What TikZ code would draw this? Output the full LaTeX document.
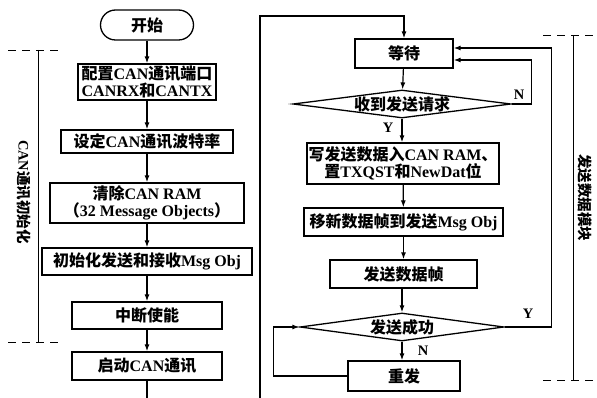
\documentclass[tikz,border=0pt]{standalone}
\usepackage{fontspec}
\setmainfont{Liberation Serif}
\newfontfamily\cjk{Noto Sans CJK SC}
\usetikzlibrary{shapes.geometric,arrows.meta}
\newcommand\zh[1]{{\cjk #1}}
\begin{document}
\begin{tikzpicture}[x=1pt,y=-1pt,
  txt/.style={font=\bfseries\fontsize{16}{17.5}\selectfont},
  small/.style={font=\bfseries\fontsize{14.5}{17}\selectfont},
  box/.style={txt,draw,line width=1.3pt,inner sep=0pt,align=center},
  term/.style={box,rounded corners=15pt},
  dia/.style={txt,draw,line width=1.3pt,shape=diamond,inner sep=0pt},
  lbl/.style={small,inner sep=0pt},
  flow/.style={line width=1.2pt},
  arr/.style={flow,-{Latex[length=7pt,width=5pt]}},
  brk/.style={line width=0.9pt},
  dsh/.style={line width=0.9pt,dash pattern=on 8pt off 6pt}]
\useasboundingbox (0,0) rectangle (597,398);
% left column
\node[term,minimum width=93pt,minimum height=30pt] (start) at (147,25) {\zh{开始}};
\node[box,minimum width=138pt,minimum height=36pt] (b1) at (147,82) {\zh{配置}CAN\zh{通讯端口}\\CANRX\zh{和}CANTX};
\node[box,minimum width=172pt,minimum height=23pt] (b2) at (147,141.5) {\zh{设定}CAN\zh{通讯波特率}};
\node[box,minimum width=194pt,minimum height=40pt] (b3) at (147,203) {\zh{清除}CAN RAM\\\zh{（}32 Message Objects\zh{）}};
\node[box,minimum width=210pt,minimum height=27pt] (b4) at (147,261.5) {\zh{初始化发送和接收}Msg Obj};
\node[box,minimum width=150pt,minimum height=27pt] (b5) at (147,315.5) {\zh{中断使能}};
\node[box,minimum width=150pt,minimum height=28pt] (b6) at (147,366) {\zh{启动}CAN\zh{通讯}};
\coordinate (lbot) at (147,398);
\draw[arr] (start) -- (b1);
\draw[arr] (b1) -- (b2);
\draw[arr] (b2) -- (b3);
\draw[arr] (b3) -- (b4);
\draw[arr] (b4) -- (b5);
\draw[arr] (b5) -- (b6);
\draw[flow] (b6) -- (lbot);
% right column
\node[box,minimum width=98pt,minimum height=29pt] (wait) at (404,53.5) {\zh{等待}};
\node[dia,minimum width=218pt,minimum height=28pt] (d1) at (402,104) {\makebox[0pt]{\zh{收到发送请求}}};
\node[box,minimum width=192pt,minimum height=41pt] (bw) at (403,163.5) {\zh{写发送数据入}CAN RAM\zh{、}\\\zh{置}TXQST\zh{和}NewDat\zh{位}};
\node[box,minimum width=199pt,minimum height=28pt] (bm) at (403.5,222) {\zh{移新数据帧到发送}Msg Obj};
\node[box,minimum width=147pt,minimum height=28pt] (bf) at (403.5,274) {\zh{发送数据帧}};
\node[dia,minimum width=204pt,minimum height=28pt] (d2) at (402,327) {\makebox[0pt]{\zh{发送成功}}};
\node[box,minimum width=112pt,minimum height=30pt] (retry) at (404,376) {\zh{重发}};
\coordinate (rbot) at (260,398);
\coordinate (rtop) at (260,16);
\draw[arr] (rbot) -- (rtop) -| (wait.north);
\draw[arr] (wait) -- (d1);
\draw[arr] (d1.south) -- (d1.south |- bw.north);
\draw[arr] (bw) -- (bm);
\draw[arr] (bm) -- (bf);
\draw[arr] (bf.south) -- (bf.south -| d2.north) -- (d2.north);
\draw[arr] (d2.south) -- (d2.south |- retry.north);
\draw[arr] (d1.east) -- ++(20,0) |- ([yshift=-6.5pt]wait.east);
\draw[arr] (d2.east) -- ++(47,0) |- ([yshift=5.5pt]wait.east);
\draw[arr] (retry.west) -- ++(-74,0) |- (d2.west);
\node[lbl] (y1) at (388,128) {Y};
\node[lbl] (n1) at (519,95) {N};
\node[lbl] (y2) at (528,314) {Y};
\node[lbl] (n2) at (423,351) {N};
% brackets
\draw[dsh] (8,50) -- (60,50);
\draw[brk] (38,50) -- (38,342);
\draw[dsh] (8,342) -- (60,342);
\node[lbl,rotate=-90] (lgrp) at (24,192) {CAN\zh{通讯初始化}};
\draw[dsh] (543,35) -- (597,35);
\draw[brk] (573,35) -- (573,380);
\draw[dsh] (543,380) -- (597,380);
\node[lbl,rotate=-90] (rgrp) at (585,198) {\zh{发送数据模块}};
\end{tikzpicture}
\end{document}
